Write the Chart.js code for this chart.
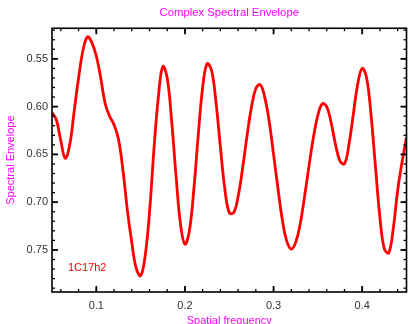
<!DOCTYPE html>
<html>
<head>
<meta charset="utf-8">
<script src="https://cdn.jsdelivr.net/npm/chart.js@4"></script>
<style>
  html, body { margin: 0; padding: 0; background: #fff; }
  #wrap { width: 408px; height: 324px; }
</style>
</head>
<body>
<div id="wrap"><canvas id="myChart" width="408" height="324"></canvas></div>
<script>
// Spatial frequency (x) and envelope value (y)
const freq = [
  0.050, 0.055, 0.060, 0.065, 0.070, 0.075, 0.080, 0.085, 0.090, 0.095,
  0.100, 0.105, 0.110, 0.115, 0.120, 0.125, 0.130, 0.135, 0.140, 0.145,
  0.150, 0.155, 0.160, 0.165, 0.170, 0.175, 0.180, 0.185, 0.190, 0.195,
  0.200, 0.205, 0.210, 0.215, 0.220, 0.225, 0.230, 0.235, 0.240, 0.245,
  0.250, 0.255, 0.260, 0.265, 0.270, 0.275, 0.280, 0.285, 0.290, 0.295,
  0.300, 0.305, 0.310, 0.315, 0.320, 0.325, 0.330, 0.335, 0.340, 0.345,
  0.350, 0.355, 0.360, 0.365, 0.370, 0.375, 0.380, 0.385, 0.390, 0.395,
  0.400, 0.405, 0.410, 0.415, 0.420, 0.425, 0.430, 0.435, 0.440, 0.445,
  0.450
];
const envelope = [
  0.606, 0.614, 0.636, 0.654, 0.640, 0.605, 0.570, 0.541, 0.527, 0.533,
  0.547, 0.570, 0.597, 0.610, 0.619, 0.634, 0.666, 0.708, 0.742, 0.769,
  0.777, 0.757, 0.711, 0.645, 0.590, 0.558, 0.570, 0.615, 0.673, 0.723,
  0.744, 0.730, 0.687, 0.630, 0.580, 0.555, 0.562, 0.595, 0.642, 0.686,
  0.711, 0.711, 0.694, 0.665, 0.631, 0.601, 0.581, 0.577, 0.590, 0.615,
  0.650, 0.686, 0.719, 0.741, 0.749, 0.742, 0.723, 0.694, 0.662, 0.632,
  0.609, 0.597, 0.600, 0.617, 0.640, 0.657, 0.660, 0.640, 0.608, 0.576,
  0.560, 0.570, 0.609, 0.663, 0.716, 0.749, 0.753, 0.728, 0.688, 0.658,
  0.632
];
const xTicks = [0.1, 0.2, 0.3, 0.4];
const yTicks = [0.55, 0.60, 0.65, 0.70, 0.75];
const seriesLabel = '1C17h2';

const FONT = '"Liberation Sans", Arial, sans-serif';
const MAGENTA = '#ff00ff';

// box round the plot, ticks pointing inwards on all four sides
const frameTicks = {
  id: 'frameTicks',
  afterDatasetsDraw(chart) {
    const { ctx, chartArea: a, scales: { x, y } } = chart;
    ctx.save();
    ctx.strokeStyle = '#000';

    const tick = (px, py, dx, dy) => {
      ctx.beginPath();
      ctx.moveTo(px, py);
      ctx.lineTo(px + dx, py + dy);
      ctx.stroke();
    };

    // minor ticks
    ctx.lineWidth = 1.3;
    for (let i = 3; i <= 22; i++) {
      const v = i * 0.02;
      if (v <= x.min || v >= x.max) continue;
      const px = x.getPixelForValue(v);
      tick(px, a.bottom, 0, -3);
      tick(px, a.top, 0, 3);
    }
    for (let i = 52; i <= 79; i++) {
      const v = i / 100;
      if (v <= y.min || v >= y.max) continue;
      const py = y.getPixelForValue(v);
      tick(a.left, py, 3, 0);
      tick(a.right, py, -3, 0);
    }

    // major ticks
    ctx.lineWidth = 1.8;
    xTicks.forEach(v => {
      const px = x.getPixelForValue(v);
      tick(px, a.bottom, 0, -6);
      tick(px, a.top, 0, 6);
    });
    yTicks.forEach(v => {
      const py = y.getPixelForValue(v);
      tick(a.left, py, 6, 0);
      tick(a.right, py, -6, 0);
    });

    ctx.lineWidth = 1.6;
    ctx.strokeRect(a.left, a.top, a.right - a.left, a.bottom - a.top);

    // series name inside the plot
    ctx.fillStyle = '#ff0000';
    ctx.font = '11px ' + FONT;
    ctx.textAlign = 'left';
    ctx.textBaseline = 'middle';
    ctx.fillText(seriesLabel, x.getPixelForValue(0.068), y.getPixelForValue(0.7685));
    ctx.restore();
  }
};

const ctx = document.getElementById('myChart').getContext('2d');
new Chart(ctx, {
  type: 'line',
  data: {
    datasets: [{
      label: seriesLabel,
      data: freq.map((f, i) => ({ x: f, y: envelope[i] })),
      borderColor: '#ff0000',
      borderWidth: 2.8,
      pointRadius: 0,
      tension: 0.4,
      fill: false
    }]
  },
  options: {
    responsive: false,
    animation: false,
    layout: { padding: { left: 0, right: 1.5, top: 0, bottom: 0 } },
    plugins: {
      legend: { display: false },
      tooltip: { enabled: false },
      title: {
        display: true,
        text: 'Complex Spectral Envelope',
        color: MAGENTA,
        fullSize: false,
        font: { family: FONT, size: 11.3, weight: 'normal' },
        padding: { top: 6, bottom: 8.7 }
      }
    },
    scales: {
      x: {
        type: 'linear',
        min: 0.05,
        max: 0.45,
        afterBuildTicks: s => { s.ticks = xTicks.map(v => ({ value: v })); },
        afterFit: s => { s.height = 32; },
        grid: { display: false, drawTicks: false },
        border: { display: false },
        ticks: {
          color: '#333',
          font: { family: FONT, size: 11 },
          padding: 7.5,
          maxRotation: 0,
          callback: v => v.toFixed(1)
        },
        title: {
          display: true,
          text: 'Spatial frequency',
          color: MAGENTA,
          font: { family: FONT, size: 11 },
          padding: { top: 0, bottom: -3.5 }
        }
      },
      y: {
        type: 'linear',
        reverse: true,
        min: 0.518,
        max: 0.794,
        afterBuildTicks: s => { s.ticks = yTicks.map(v => ({ value: v })); },
        afterFit: s => { s.width = 52; },
        grid: { display: false, drawTicks: false },
        border: { display: false },
        ticks: {
          color: '#333',
          font: { family: FONT, size: 11 },
          padding: 4,
          callback: v => v.toFixed(2)
        },
        title: {
          display: true,
          text: 'Spectral Envelope',
          color: MAGENTA,
          font: { family: FONT, size: 11 },
          padding: { top: 4, bottom: 0 }
        }
      }
    }
  },
  plugins: [frameTicks]
});
</script>
</body>
</html>
